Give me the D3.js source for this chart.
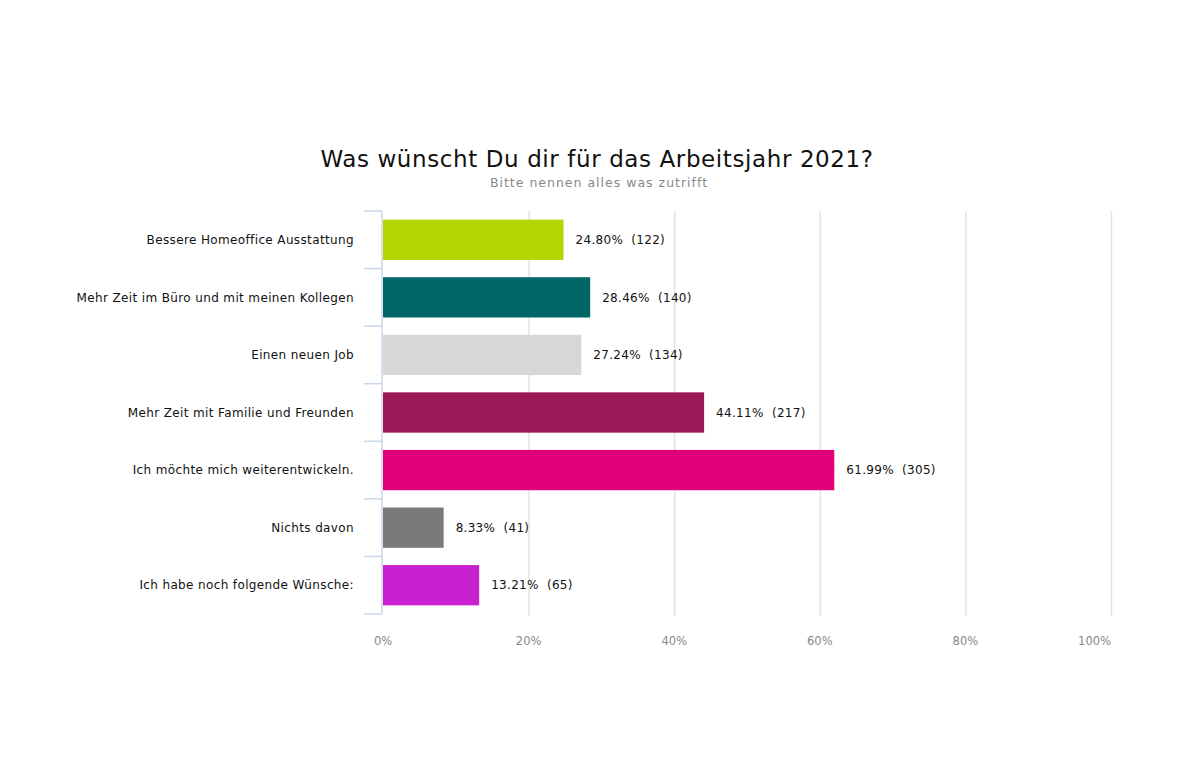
<!DOCTYPE html>
<html><head><meta charset="utf-8">
<script src="https://cdn.jsdelivr.net/npm/d3@7"></script>
<style>body{margin:0;background:#fff;}svg{display:block;font-family:"DejaVu Sans",Verdana,sans-serif;}</style>
</head><body><svg id="c" width="1200" height="778"></svg>
<script>
const categories = ["Bessere Homeoffice Ausstattung","Mehr Zeit im Büro und mit meinen Kollegen","Einen neuen Job","Mehr Zeit mit Familie und Freunden","Ich möchte mich weiterentwickeln.","Nichts davon","Ich habe noch folgende Wünsche:"];
const percents = [24.80, 28.46, 27.24, 44.11, 61.99, 8.33, 13.21];
const counts = [122, 140, 134, 217, 305, 41, 65];
const colors = ["#b3d600","#006769","#d7d7d7","#9c1957","#e2007a","#7a7a7a","#c822d0"];
const xTicks = [0,20,40,60,80,100];
const title = "Was wünscht Du dir für das Arbeitsjahr 2021?";
const subtitle = "Bitte nennen alles was zutrifft";

const svg = d3.select("#c");
const m = {left:383, right:1111, top:211, bottom:614};
const x = d3.scaleLinear().domain([0,100]).range([m.left, m.right]);
const y = d3.scaleBand().domain(categories).range([m.top, m.bottom]).paddingInner(0.3).paddingOuter(0.15);

svg.append("text").attr("x",597).attr("y",167).attr("text-anchor","middle")
  .attr("font-size",23).attr("fill","#111").attr("letter-spacing",0.6).text(title);
svg.append("text").attr("x",599).attr("y",187).attr("text-anchor","middle")
  .attr("font-size",12.5).attr("fill","#888").attr("letter-spacing",1.0).text(subtitle);

// gridlines
svg.append("g").selectAll("line").data(xTicks.slice(1)).join("line")
  .attr("x1",d=>x(d)+0.5).attr("x2",d=>x(d)+0.5).attr("y1",m.top).attr("y2",m.bottom+2)
  .attr("stroke","#e3e3e3").attr("stroke-width",1.5);

// x tick labels
svg.append("g").selectAll("text").data(xTicks).join("text")
  .attr("x",(d,i)=>i===xTicks.length-1 ? x(d) : x(d)).attr("y",645)
  .attr("text-anchor",(d,i)=>i===xTicks.length-1 ? "end" : "middle")
  .attr("font-size",11.5).attr("fill","#888").text(d=>d+"%");

// y axis line and ticks at category boundaries
const bounds = d3.range(categories.length+1).map(i=>m.top + i*(m.bottom-m.top)/categories.length);
svg.append("line").attr("x1",m.left-1).attr("x2",m.left-1).attr("y1",m.top).attr("y2",m.bottom)
  .attr("stroke","#ccd6eb").attr("stroke-width",1.5);
svg.append("g").selectAll("line").data(bounds).join("line")
  .attr("x1",m.left-19).attr("x2",m.left-1).attr("y1",d=>d).attr("y2",d=>d)
  .attr("stroke","#ccd6eb").attr("stroke-width",1.5);

// bars
svg.append("g").selectAll("rect").data(categories).join("rect")
  .attr("x",x(0)).attr("y",d=>y(d)).attr("height",y.bandwidth())
  .attr("width",(d,i)=>x(percents[i])-x(0)).attr("fill",(d,i)=>colors[i]);

// category labels
svg.append("g").selectAll("text").data(categories).join("text")
  .attr("x",354).attr("y",d=>y(d)+y.bandwidth()/2).attr("dy","0.35em")
  .attr("text-anchor","end").attr("font-size",12).attr("fill","#111").attr("letter-spacing",0.37).text(d=>d);

// value labels
svg.append("g").selectAll("text").data(categories).join("text")
  .attr("x",(d,i)=>x(percents[i])+12).attr("y",d=>y(d)+y.bandwidth()/2).attr("dy","0.35em")
  .attr("font-size",12).attr("fill","#111").attr("letter-spacing",0.3)
  .text((d,i)=>percents[i].toFixed(2)+"%\u00a0\u00a0("+counts[i]+")");
</script></body></html>
